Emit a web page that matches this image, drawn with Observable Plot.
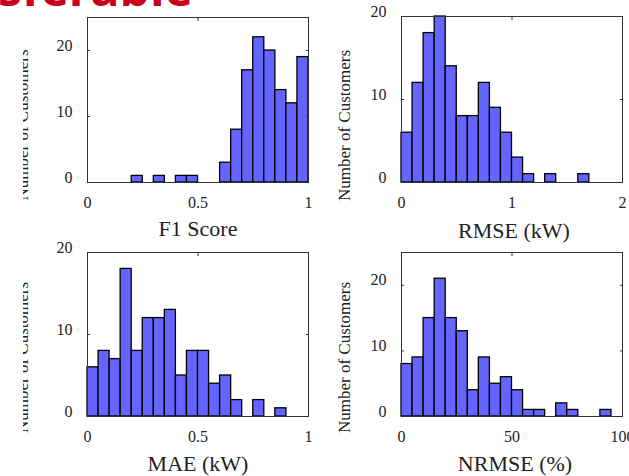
<!DOCTYPE html>
<html>
<head>
<meta charset="utf-8">
<script src="https://cdn.jsdelivr.net/npm/d3@7"></script>
<script src="https://cdn.jsdelivr.net/npm/@observablehq/plot@0.6"></script>
<style>
  html, body { margin: 0; padding: 0; background: #fff; }
  #root { position: relative; width: 629px; height: 476px; overflow: hidden; background: #fff; }
  .panel { position: absolute; }
  #root svg, #root svg text { font-family: "Liberation Serif", "Times New Roman", serif !important; }
  .clipLeft { clip-path: inset(0 0 0 23px); }
  #banner { position: absolute; left: -2px; top: -36px; font: 700 48px "Open Sans", sans-serif; line-height: 48px; color: #c8001e; white-space: nowrap; }
</style>
</head>
<body>
<div id="root">
  <div id="banner">sferable</div>
</div>
<script>
// ---------- data ----------
const yLabelText = "Number of Customers";

const f1Label = "F1 Score";
const f1BinWidth = 0.05;
const f1BinStart = [0, 0.05, 0.1, 0.15, 0.2, 0.25, 0.3, 0.35, 0.4, 0.45, 0.5, 0.55, 0.6, 0.65, 0.7, 0.75, 0.8, 0.85, 0.9, 0.95];
const f1Counts   = [0, 0, 0, 0, 1, 0, 1, 0, 1, 1, 0, 0, 3, 8, 17, 22, 20, 14, 12, 19];
const f1XTicks = [0, 0.5, 1];
const f1YTicks = [0, 10, 20];

const rmseLabel = "RMSE (kW)";
const rmseBinWidth = 0.1;
const rmseBinStart = [0, 0.1, 0.2, 0.3, 0.4, 0.5, 0.6, 0.7, 0.8, 0.9, 1.0, 1.1, 1.2, 1.3, 1.4, 1.5, 1.6];
const rmseCounts   = [6, 12, 18, 20, 14, 8, 8, 12, 9, 6, 3, 1, 0, 1, 0, 0, 1];
const rmseXTicks = [0, 1, 2];
const rmseYTicks = [0, 10, 20];

const maeLabel = "MAE (kW)";
const maeBinWidth = 0.05;
const maeBinStart = [0, 0.05, 0.1, 0.15, 0.2, 0.25, 0.3, 0.35, 0.4, 0.45, 0.5, 0.55, 0.6, 0.65, 0.7, 0.75, 0.8, 0.85];
const maeCounts   = [6, 8, 7, 18, 8, 12, 12, 13, 5, 8, 8, 4, 5, 2, 0, 2, 0, 1];
const maeXTicks = [0, 0.5, 1];
const maeYTicks = [0, 10, 20];

const nrmseLabel = "NRMSE (%)";
const nrmseBinWidth = 5;
const nrmseBinStart = [0, 5, 10, 15, 20, 25, 30, 35, 40, 45, 50, 55, 60, 65, 70, 75, 80, 85, 90, 95];
const nrmseCounts   = [8, 9, 15, 21, 15, 13, 4, 9, 5, 6, 4, 1, 1, 0, 2, 1, 0, 0, 1, 0];
const nrmseXTicks = [0, 50, 100];
const nrmseYTicks = [0, 10, 20];

// ---------- panels ----------
const panels = [
  {starts: f1BinStart, counts: f1Counts, w: f1BinWidth, xDomain: [0, 1], yDomain: [0, 25], xTicks: f1XTicks, yTicks: f1YTicks, label: f1Label,
   left: 0, top: 0, width: 320, height: 240, mt: 17, mr: 12, mb: 58, ml: 87, yLabDx: -65, yLabDy: 25, xLabDy: 46, xLabDx: 0, clip: true},
  {starts: rmseBinStart, counts: rmseCounts, w: rmseBinWidth, xDomain: [0, 2], yDomain: [0, 20], xTicks: rmseXTicks, yTicks: rmseYTicks, label: rmseLabel,
   left: 314, top: 0, width: 315, height: 240, mt: 16, mr: 7, mb: 58, ml: 87, yLabDx: -57, yLabDy: 26, xLabDy: 48, xLabDx: 2, clip: false},
  {starts: maeBinStart, counts: maeCounts, w: maeBinWidth, xDomain: [0, 1], yDomain: [0, 20], xTicks: maeXTicks, yTicks: maeYTicks, label: maeLabel,
   left: 0, top: 236, width: 320, height: 240, mt: 16, mr: 12, mb: 60, ml: 87, yLabDx: -65, yLabDy: 23, xLabDy: 47, xLabDx: 0, clip: true},
  {starts: nrmseBinStart, counts: nrmseCounts, w: nrmseBinWidth, xDomain: [0, 100], yDomain: [0, 25], xTicks: nrmseXTicks, yTicks: nrmseYTicks, label: nrmseLabel,
   left: 314, top: 236, width: 315, height: 240, mt: 16, mr: 7, mb: 60, ml: 87, yLabDx: -57, yLabDy: 23, xLabDy: 47, xLabDx: 3, clip: false}
];

const root = document.getElementById("root");
const fmt = d => String(d);
const blank = () => "";
const serif = "'Liberation Serif', 'Times New Roman', serif";

for (const p of panels) {
  const table = p.starts.map((s, i) => ({x1: s, x2: s + p.w, y: p.counts[i]}));
  const chart = Plot.plot({
    width: p.width,
    height: p.height,
    marginTop: p.mt, marginRight: p.mr, marginBottom: p.mb, marginLeft: p.ml,
    style: {fontFamily: serif, fontSize: "16px", color: "#222", background: "transparent", overflow: "visible"},
    x: {domain: p.xDomain, label: null},
    y: {domain: p.yDomain, label: null},
    marks: [
      Plot.rectY(table, {x1: "x1", x2: "x2", y: "y", fill: "#6464ff", stroke: "#000", strokeWidth: 1.3}),
      Plot.frame({stroke: "#333", strokeWidth: 1}),
      Plot.axisX({ticks: p.xTicks, tickSize: 0, tickPadding: 14, tickFormat: fmt, fontSize: 16, fontFamily: serif, label: null}),
      Plot.axisX({anchor: "top", ticks: p.xTicks, tickSize: -3, tickFormat: blank, label: null, stroke: "#333"}),
      Plot.axisY({ticks: p.yTicks, tickSize: 0, tickPadding: 15, dy: -5, tickFormat: fmt, fontSize: 16, fontFamily: serif, label: null}),
      Plot.axisY({anchor: "left", ticks: p.yTicks, tickSize: -3, tickFormat: blank, label: null, stroke: "#333"}),
      Plot.axisY({anchor: "right", ticks: p.yTicks, tickSize: -3, tickFormat: blank, label: null, stroke: "#333"}),
      Plot.text([p.label], {text: d => d, frameAnchor: "bottom", textAnchor: "middle", lineAnchor: "middle", dy: p.xLabDy, dx: p.xLabDx, fontSize: 22, fontFamily: serif, fill: "#222"}),
      Plot.text([yLabelText], {text: d => d, frameAnchor: "left", textAnchor: "middle", lineAnchor: "middle", rotate: -90, dx: p.yLabDx, dy: p.yLabDy, fontSize: 17, fontFamily: serif, fill: "#222"})
    ]
  });
  chart.classList.add("panel");
  if (p.clip) chart.classList.add("clipLeft");
  chart.style.left = p.left + "px";
  chart.style.top = p.top + "px";
  root.appendChild(chart);
}
</script>
</body>
</html>
